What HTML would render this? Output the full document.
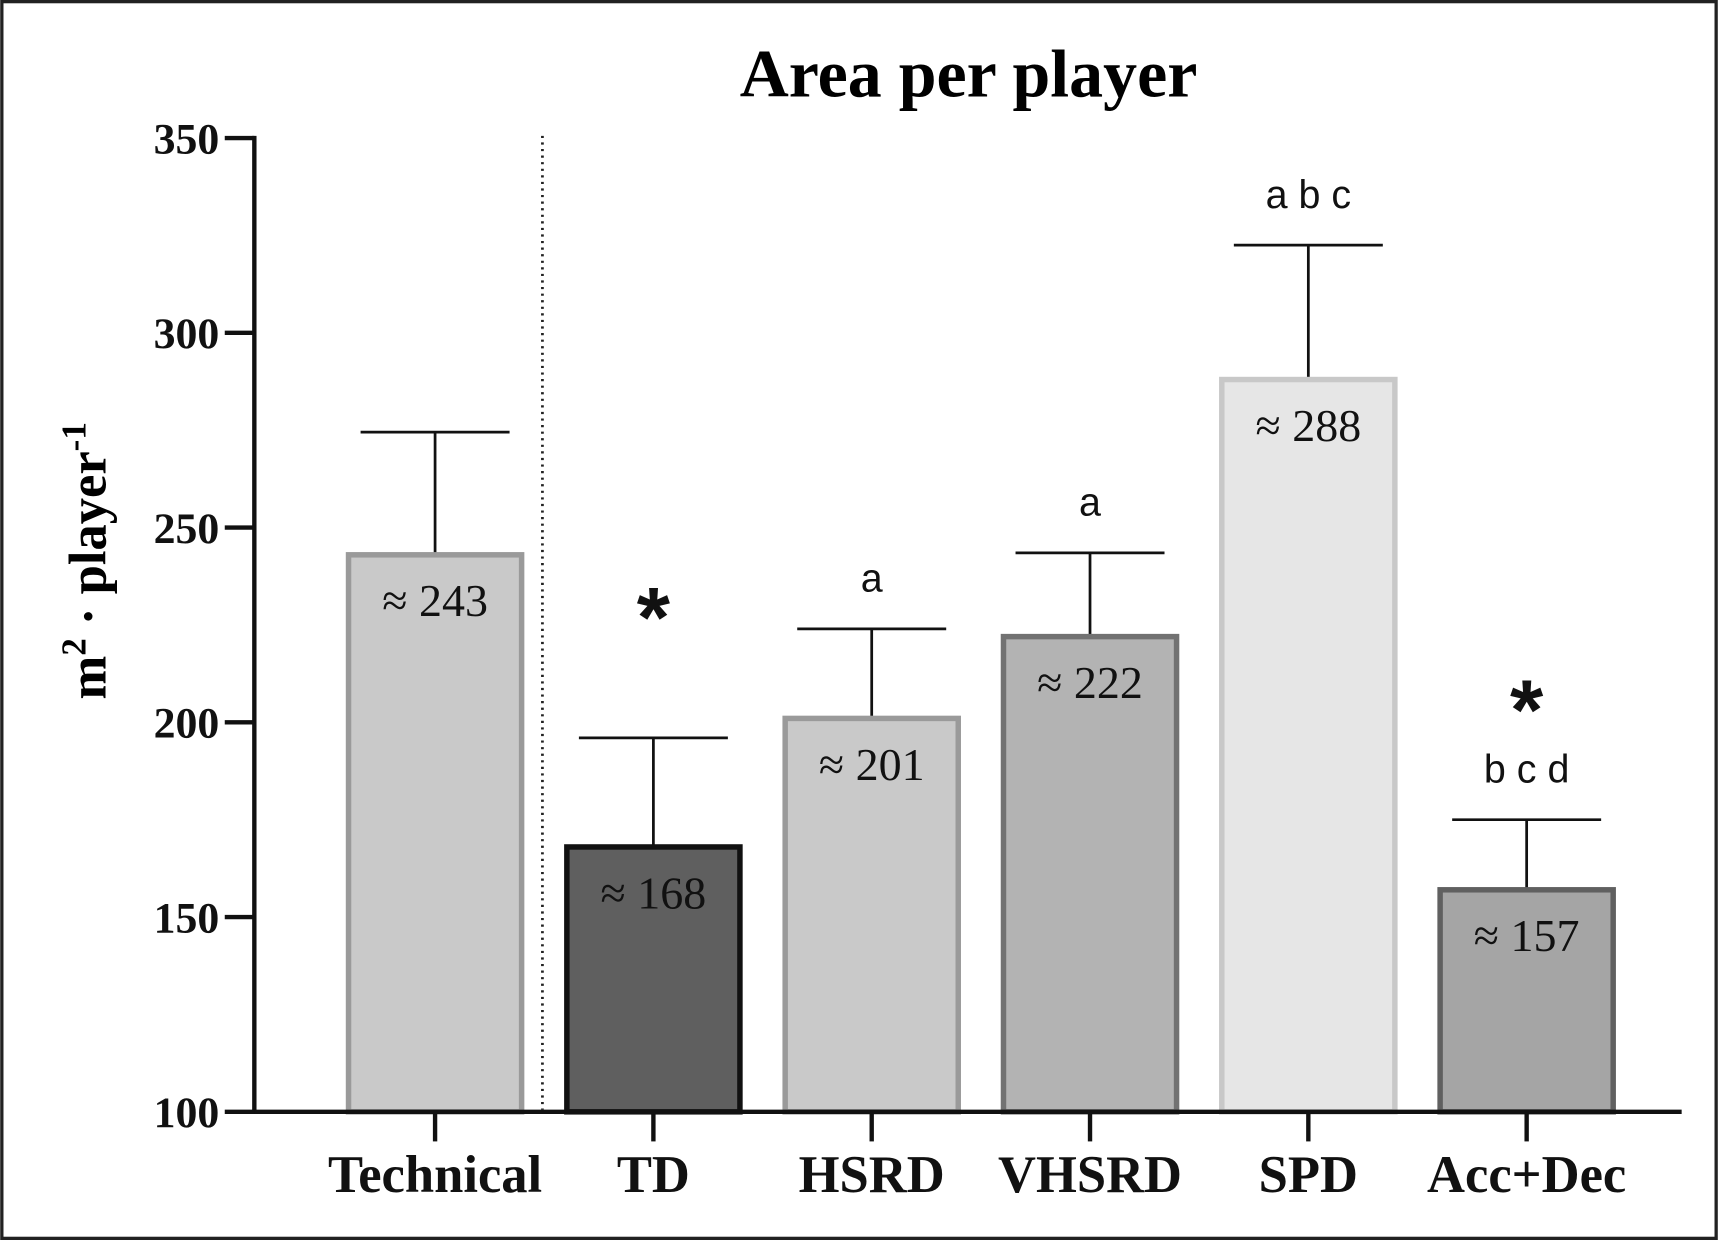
<!DOCTYPE html>
<html><head><meta charset="utf-8"><style>
html,body{margin:0;padding:0;background:#fff;}
svg{display:block;}
</style></head><body>
<svg id="chart" width="1718" height="1240" viewBox="0 0 1568 1132" xmlns="http://www.w3.org/2000/svg">
<rect x="1.5" y="1.5" width="1565" height="1129" fill="#fff" stroke="#222" stroke-width="3"/>
<text x="884" y="88" text-anchor="middle" font-family="Liberation Serif, serif" font-weight="bold" font-size="62">Area per player</text>
<text transform="translate(96,512) rotate(-90)" text-anchor="middle" font-family="Liberation Serif, serif" font-weight="bold" font-size="48">m<tspan font-size="32" dy="-18">2</tspan><tspan dy="18"> · player</tspan><tspan font-size="32" dy="-18">-1</tspan></text>
<line x1="495" y1="124" x2="495" y2="1013" stroke="#222" stroke-width="2.5" stroke-dasharray="2,4"/>
<g id="marks"></g>
<g id="axes"></g>
</svg>
<script>
const categories = ["Technical","TD","HSRD","VHSRD","SPD","Acc+Dec"];
const means = [243,168,201,222,288,157];
const errTops = [274.5,196,224,243.5,322.5,175];
const letters = ["","","a","a","a b c","b c d"];
const stars = [false,true,false,false,false,true];
const yTicks = [100,150,200,250,300,350];
const fills = ["#c9c9c9","#5f5f5f","#c9c9c9","#b3b3b3","#e6e6e6","#a5a5a5"];
const strokes = ["#9a9a9a","#111111","#9a9a9a","#727272","#c8c8c8","#606060"];

const NS="http://www.w3.org/2000/svg";
const y0=1015, y1=126, vmin=100, vmax=350;
const yScale=v=>y0-(v-vmin)/(vmax-vmin)*(y0-y1);
const xScale=i=>397+i*199.3;
const bw=158;
function mk(tag,attrs,parent,txt){const e=document.createElementNS(NS,tag);for(const k in attrs)e.setAttribute(k,attrs[k]);if(txt!==undefined)e.textContent=txt;parent.appendChild(e);return e;}
const marks=document.getElementById('marks'), axes=document.getElementById('axes');
categories.forEach((c,i)=>{
  const cx=xScale(i), top=yScale(means[i]), et=yScale(errTops[i]);
  const eb=mk('line',{x1:cx,y1:top,x2:cx,y2:et,stroke:'#111','stroke-width':2.5},marks);
  
  
  const cap=mk('line',{x1:cx-68,y1:et,x2:cx+68,y2:et,stroke:'#111','stroke-width':2.5},marks);
  
  
  const r=mk('rect',{x:cx-bw/2,y:top,width:bw,height:y0-top,fill:fills[i],stroke:strokes[i],'stroke-width':5},marks);
  
  
  const t=mk('text',{x:cx,y:top+56,'text-anchor':'middle','font-family':'Liberation Serif, serif','font-size':42,fill:'#111'},marks,'≈ '+means[i]);
  
  
  if(letters[i]){
    const l=mk('text',{x:cx,y:et-34,'text-anchor':'middle','font-family':'Liberation Sans, sans-serif','font-size':36,fill:'#111'},marks,letters[i]);
    
    
  }
  if(stars[i]){
    const sy = letters[i] ? et-72+46 : et-128+46+ 0;
    const s=mk('text',{x:cx,y:(letters[i]? et-84 : et-92)+46,'text-anchor':'middle','font-family':'Liberation Sans, sans-serif','font-weight':'bold','font-size':78,fill:'#111'},marks,'*');
    s.setAttribute('y', letters[i] ? et-72 : et-82);
    s.setAttribute('transform','translate(0,46)');
    s.setAttribute('y', letters[i] ? et-119 : et-129);
    
    
  }
  const tk=mk('line',{x1:cx,y1:y0,x2:cx,y2:y0+27,stroke:'#111','stroke-width':4},axes);
  
  
  const xl=mk('text',{x:cx,y:1088,'text-anchor':'middle','font-family':'Liberation Serif, serif','font-weight':'bold','font-size':48,fill:'#111'},axes,c);
  
  
});
const ya=mk('line',{x1:232,y1:124,x2:232,y2:y0+2,stroke:'#111','stroke-width':4},axes);


const xa=mk('line',{x1:230,y1:y0,x2:1535,y2:y0,stroke:'#111','stroke-width':4},axes);


yTicks.forEach(v=>{
  const y=yScale(v);
  const tk=mk('line',{x1:205,y1:y,x2:232,y2:y,stroke:'#111','stroke-width':4},axes);
  
  
  const tl=mk('text',{x:200,y:y+14,'text-anchor':'end','font-family':'Liberation Serif, serif','font-weight':'bold','font-size':40,fill:'#111'},axes,v);
  
  
});
</script>
</body></html>
